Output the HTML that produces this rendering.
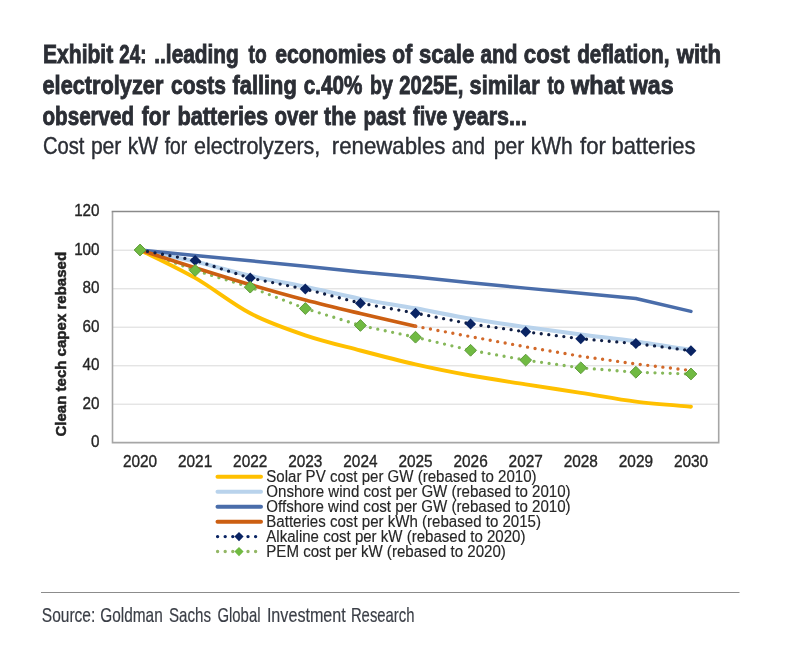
<!DOCTYPE html>
<html><head><meta charset="utf-8"><style>
html,body{margin:0;padding:0;background:#fff;width:786px;height:657px;overflow:hidden}
svg{display:block;filter:blur(0.35px)}
text{font-family:"Liberation Sans",sans-serif;fill:#262626}
.tt{font-size:26.5px;font-weight:bold;fill:#2B2E35;stroke:#2B2E35;stroke-width:0.9px}
.st{font-size:24px;fill:#2B2E35;stroke:#2B2E35;stroke-width:0.4px}
.src{font-size:21px;fill:#3A3E46;stroke:#3A3E46;stroke-width:0.2px}
.ax{font-size:16.5px;fill:#262626;stroke:#262626;stroke-width:0.35px}
.ax2{font-size:15px;fill:#262626;stroke:#262626;stroke-width:0.2px}
.yt{font-size:15.5px;font-weight:bold;fill:#222;stroke:#222;stroke-width:0.5px}
.lg{font-size:16px;fill:#262626;stroke:#262626;stroke-width:0.15px}
</style></head><body>
<svg width="786" height="657" viewBox="0 0 786 657">
<line x1="112.5" y1="404.2" x2="718.5" y2="404.2" stroke="#D9D9D9" stroke-width="1"/>
<line x1="112.5" y1="365.8" x2="718.5" y2="365.8" stroke="#D9D9D9" stroke-width="1"/>
<line x1="112.5" y1="327.2" x2="718.5" y2="327.2" stroke="#D9D9D9" stroke-width="1"/>
<line x1="112.5" y1="288.8" x2="718.5" y2="288.8" stroke="#D9D9D9" stroke-width="1"/>
<line x1="112.5" y1="250.2" x2="718.5" y2="250.2" stroke="#D9D9D9" stroke-width="1"/>
<path d="M112.5,211.5 V442.6 H718.7 V211.5" fill="none" stroke="#A6A6A6" stroke-width="1.6"/>
<line x1="111.7" y1="211.5" x2="719.5" y2="211.5" stroke="#8A8A8A" stroke-width="1.6"/>
<text x="99.6" y="447.1" text-anchor="end" class="ax" textLength="8.49" lengthAdjust="spacingAndGlyphs">0</text>
<text x="99.6" y="408.6" text-anchor="end" class="ax" textLength="16.98" lengthAdjust="spacingAndGlyphs">20</text>
<text x="99.6" y="370.1" text-anchor="end" class="ax" textLength="16.98" lengthAdjust="spacingAndGlyphs">40</text>
<text x="99.6" y="331.6" text-anchor="end" class="ax" textLength="16.98" lengthAdjust="spacingAndGlyphs">60</text>
<text x="99.6" y="293.1" text-anchor="end" class="ax" textLength="16.98" lengthAdjust="spacingAndGlyphs">80</text>
<text x="99.6" y="254.6" text-anchor="end" class="ax" textLength="25.47" lengthAdjust="spacingAndGlyphs">100</text>
<text x="99.6" y="216.1" text-anchor="end" class="ax" textLength="25.47" lengthAdjust="spacingAndGlyphs">120</text>
<text x="140.0" y="467.2" text-anchor="middle" class="ax" textLength="34.2" lengthAdjust="spacingAndGlyphs">2020</text>
<text x="195.1" y="467.2" text-anchor="middle" class="ax" textLength="34.2" lengthAdjust="spacingAndGlyphs">2021</text>
<text x="250.2" y="467.2" text-anchor="middle" class="ax" textLength="34.2" lengthAdjust="spacingAndGlyphs">2022</text>
<text x="305.3" y="467.2" text-anchor="middle" class="ax" textLength="34.2" lengthAdjust="spacingAndGlyphs">2023</text>
<text x="360.4" y="467.2" text-anchor="middle" class="ax" textLength="34.2" lengthAdjust="spacingAndGlyphs">2024</text>
<text x="415.5" y="467.2" text-anchor="middle" class="ax" textLength="34.2" lengthAdjust="spacingAndGlyphs">2025</text>
<text x="470.6" y="467.2" text-anchor="middle" class="ax" textLength="34.2" lengthAdjust="spacingAndGlyphs">2026</text>
<text x="525.7" y="467.2" text-anchor="middle" class="ax" textLength="34.2" lengthAdjust="spacingAndGlyphs">2027</text>
<text x="580.8" y="467.2" text-anchor="middle" class="ax" textLength="34.2" lengthAdjust="spacingAndGlyphs">2028</text>
<text x="635.9" y="467.2" text-anchor="middle" class="ax" textLength="34.2" lengthAdjust="spacingAndGlyphs">2029</text>
<text x="691.0" y="467.2" text-anchor="middle" class="ax" textLength="34.2" lengthAdjust="spacingAndGlyphs">2030</text>
<text transform="translate(66.4,436.6) rotate(-90)" class="yt" textLength="184.7" lengthAdjust="spacingAndGlyphs">Clean tech capex rebased</text>
<path d="M140.05,250.00 L195.14,270.40 L250.23,287.15 L305.32,308.52 L360.41,325.46 L415.50,337.20 L470.59,350.29 L525.68,360.11 L580.77,367.81 L635.86,372.24 L690.95,373.97" fill="none" stroke="#86B85A" stroke-width="3.3" stroke-linecap="round" stroke-dasharray="0 7.6"/>
<path d="M140.05,250.00 C149.23,254.65 176.77,267.36 195.14,277.91 C213.50,288.47 231.86,303.77 250.23,313.33 C268.59,322.89 286.95,329.09 305.32,335.28 C323.68,341.47 342.05,345.64 360.41,350.49 C378.77,355.33 397.14,360.17 415.50,364.35 C433.86,368.52 452.23,372.17 470.59,375.51 C488.95,378.85 507.32,381.48 525.68,384.37 C544.05,387.25 562.41,389.95 580.77,392.83 C599.14,395.72 617.50,399.38 635.86,401.69 C654.23,404.00 681.77,405.86 690.95,406.69" fill="none" stroke="#FFC000" stroke-width="3.9" stroke-linecap="round" stroke-linejoin="round"/>
<path d="M140.05,250.00 C149.23,251.93 176.77,257.25 195.14,261.55 C213.50,265.85 231.86,271.59 250.23,275.80 C268.59,280.00 286.95,282.92 305.32,286.77 C323.68,290.62 342.05,295.30 360.41,298.89 C378.77,302.49 397.14,305.02 415.50,308.33 C433.86,311.63 452.23,315.61 470.59,318.72 C488.95,321.83 507.32,324.37 525.68,327.00 C544.05,329.63 562.41,332.10 580.77,334.51 C599.14,336.91 617.50,338.84 635.86,341.44 C654.23,344.04 681.77,348.66 690.95,350.10" fill="none" stroke="#B9D3EC" stroke-width="4" stroke-linecap="round"/>
<path d="M140.05,250.00 L195.14,255.39 L250.23,260.78 L305.32,266.17 L360.41,271.95 L415.50,276.95 L470.59,282.73 L525.68,288.12 L580.77,293.31 L635.86,298.51 L690.95,311.41" fill="none" stroke="#4A6DAA" stroke-width="3.5" stroke-linecap="round" stroke-linejoin="round"/>
<path d="M140.05,250.00 C149.23,252.95 176.77,261.94 195.14,267.71 C213.50,273.49 231.86,279.26 250.23,284.65 C268.59,290.04 286.95,295.24 305.32,300.05 C323.68,304.86 342.05,309.16 360.41,313.52 C378.77,317.89 406.32,324.11 415.50,326.23" fill="none" stroke="#CC5F12" stroke-width="3.7" stroke-linecap="round"/>
<path d="M415.50,326.23 L470.59,336.62 L525.68,346.83 L580.77,356.26 L635.86,363.96 L690.95,370.50" fill="none" stroke="#D2692A" stroke-width="3.4" stroke-linecap="round" stroke-dasharray="0 7.6"/>
<path d="M140.05,250.00 L195.14,260.39 L250.23,278.11 L305.32,289.08 L360.41,303.13 L415.50,313.14 L470.59,323.92 L525.68,331.81 L580.77,338.74 L635.86,343.56 L690.95,350.68" fill="none" stroke="#101F45" stroke-width="3.3" stroke-linecap="round" stroke-dasharray="0 7.6"/>
<path d="M140.05,244.50 L145.55,250.00 L140.05,255.50 L134.55,250.00 Z" fill="#0A2463"/>
<path d="M195.14,254.89 L200.64,260.39 L195.14,265.89 L189.64,260.39 Z" fill="#0A2463"/>
<path d="M250.23,272.61 L255.73,278.11 L250.23,283.61 L244.73,278.11 Z" fill="#0A2463"/>
<path d="M305.32,283.58 L310.82,289.08 L305.32,294.58 L299.82,289.08 Z" fill="#0A2463"/>
<path d="M360.41,297.63 L365.91,303.13 L360.41,308.63 L354.91,303.13 Z" fill="#0A2463"/>
<path d="M415.50,307.64 L421.00,313.14 L415.50,318.64 L410.00,313.14 Z" fill="#0A2463"/>
<path d="M470.59,318.42 L476.09,323.92 L470.59,329.42 L465.09,323.92 Z" fill="#0A2463"/>
<path d="M525.68,326.31 L531.18,331.81 L525.68,337.31 L520.18,331.81 Z" fill="#0A2463"/>
<path d="M580.77,333.24 L586.27,338.74 L580.77,344.24 L575.27,338.74 Z" fill="#0A2463"/>
<path d="M635.86,338.06 L641.36,343.56 L635.86,349.06 L630.36,343.56 Z" fill="#0A2463"/>
<path d="M690.95,345.18 L696.45,350.68 L690.95,356.18 L685.45,350.68 Z" fill="#0A2463"/>
<path d="M140.05,244.10 L145.95,250.00 L140.05,255.90 L134.15,250.00 Z" fill="#70BA42" stroke="#5E9A3A" stroke-width="1"/>
<path d="M195.14,264.50 L201.04,270.40 L195.14,276.30 L189.24,270.40 Z" fill="#70BA42" stroke="#5E9A3A" stroke-width="1"/>
<path d="M250.23,281.25 L256.13,287.15 L250.23,293.05 L244.33,287.15 Z" fill="#70BA42" stroke="#5E9A3A" stroke-width="1"/>
<path d="M305.32,302.62 L311.22,308.52 L305.32,314.42 L299.42,308.52 Z" fill="#70BA42" stroke="#5E9A3A" stroke-width="1"/>
<path d="M360.41,319.56 L366.31,325.46 L360.41,331.36 L354.51,325.46 Z" fill="#70BA42" stroke="#5E9A3A" stroke-width="1"/>
<path d="M415.50,331.30 L421.40,337.20 L415.50,343.10 L409.60,337.20 Z" fill="#70BA42" stroke="#5E9A3A" stroke-width="1"/>
<path d="M470.59,344.39 L476.49,350.29 L470.59,356.19 L464.69,350.29 Z" fill="#70BA42" stroke="#5E9A3A" stroke-width="1"/>
<path d="M525.68,354.21 L531.58,360.11 L525.68,366.01 L519.78,360.11 Z" fill="#70BA42" stroke="#5E9A3A" stroke-width="1"/>
<path d="M580.77,361.91 L586.67,367.81 L580.77,373.71 L574.87,367.81 Z" fill="#70BA42" stroke="#5E9A3A" stroke-width="1"/>
<path d="M635.86,366.34 L641.76,372.24 L635.86,378.14 L629.96,372.24 Z" fill="#70BA42" stroke="#5E9A3A" stroke-width="1"/>
<path d="M690.95,368.07 L696.85,373.97 L690.95,379.87 L685.05,373.97 Z" fill="#70BA42" stroke="#5E9A3A" stroke-width="1"/>
<line x1="217.5" y1="476.80" x2="261" y2="476.80" stroke="#FFC000" stroke-width="4" stroke-linecap="round"/>
<line x1="217.5" y1="491.75" x2="261" y2="491.75" stroke="#B9D3EC" stroke-width="4" stroke-linecap="round"/>
<line x1="217.5" y1="506.70" x2="261" y2="506.70" stroke="#4A6DAA" stroke-width="4" stroke-linecap="round"/>
<line x1="217.5" y1="521.65" x2="261" y2="521.65" stroke="#CC5F12" stroke-width="4" stroke-linecap="round"/>
<line x1="217.6" y1="536.60" x2="257" y2="536.60" stroke="#0A2463" stroke-width="3.4" stroke-linecap="round" stroke-dasharray="0 7.6"/>
<path d="M239.00,532.00 L243.60,536.60 L239.00,541.20 L234.40,536.60 Z" fill="#0A2463"/>
<line x1="217.6" y1="551.55" x2="257" y2="551.55" stroke="#93B765" stroke-width="3.4" stroke-linecap="round" stroke-dasharray="0 7.6"/>
<path d="M239.00,546.95 L243.60,551.55 L239.00,556.15 L234.40,551.55 Z" fill="#70BA42"/>
<text x="43.00" y="62.6" class="tt" textLength="70.23" lengthAdjust="spacingAndGlyphs">Exhibit</text>
<text x="119.30" y="62.6" class="tt" textLength="27.10" lengthAdjust="spacingAndGlyphs">24:</text>
<text x="154.30" y="62.6" class="tt" textLength="84.49" lengthAdjust="spacingAndGlyphs">..leading</text>
<text x="248.50" y="62.6" class="tt" textLength="18.11" lengthAdjust="spacingAndGlyphs">to</text>
<text x="275.20" y="62.6" class="tt" textLength="110.83" lengthAdjust="spacingAndGlyphs">economies</text>
<text x="392.30" y="62.6" class="tt" textLength="19.83" lengthAdjust="spacingAndGlyphs">of</text>
<text x="419.00" y="62.6" class="tt" textLength="55.21" lengthAdjust="spacingAndGlyphs">scale</text>
<text x="480.50" y="62.6" class="tt" textLength="36.91" lengthAdjust="spacingAndGlyphs">and</text>
<text x="523.80" y="62.6" class="tt" textLength="45.79" lengthAdjust="spacingAndGlyphs">cost</text>
<text x="577.20" y="62.6" class="tt" textLength="92.28" lengthAdjust="spacingAndGlyphs">deflation,</text>
<text x="676.68" y="62.6" class="tt" textLength="44.41" lengthAdjust="spacingAndGlyphs">with</text>
<text x="42.50" y="93.6" class="tt" textLength="120.90" lengthAdjust="spacingAndGlyphs">electrolyzer</text>
<text x="171.00" y="93.6" class="tt" textLength="54.82" lengthAdjust="spacingAndGlyphs">costs</text>
<text x="232.50" y="93.6" class="tt" textLength="64.22" lengthAdjust="spacingAndGlyphs">falling</text>
<text x="303.80" y="93.6" class="tt" textLength="58.53" lengthAdjust="spacingAndGlyphs">c.40%</text>
<text x="370.00" y="93.6" class="tt" textLength="22.82" lengthAdjust="spacingAndGlyphs">by</text>
<text x="399.20" y="93.6" class="tt" textLength="64.09" lengthAdjust="spacingAndGlyphs">2025E,</text>
<text x="469.60" y="93.6" class="tt" textLength="70.03" lengthAdjust="spacingAndGlyphs">similar</text>
<text x="547.40" y="93.6" class="tt" textLength="17.41" lengthAdjust="spacingAndGlyphs">to</text>
<text x="570.99" y="93.6" class="tt" textLength="53.58" lengthAdjust="spacingAndGlyphs">what</text>
<text x="629.79" y="93.6" class="tt" textLength="43.80" lengthAdjust="spacingAndGlyphs">was</text>
<text x="42.50" y="124.5" class="tt" textLength="91.62" lengthAdjust="spacingAndGlyphs">observed</text>
<text x="141.80" y="124.5" class="tt" textLength="28.02" lengthAdjust="spacingAndGlyphs">for</text>
<text x="177.40" y="124.5" class="tt" textLength="90.77" lengthAdjust="spacingAndGlyphs">batteries</text>
<text x="274.50" y="124.5" class="tt" textLength="43.28" lengthAdjust="spacingAndGlyphs">over</text>
<text x="324.10" y="124.5" class="tt" textLength="31.86" lengthAdjust="spacingAndGlyphs">the</text>
<text x="363.60" y="124.5" class="tt" textLength="41.99" lengthAdjust="spacingAndGlyphs">past</text>
<text x="413.10" y="124.5" class="tt" textLength="34.07" lengthAdjust="spacingAndGlyphs">five</text>
<text x="452.90" y="124.5" class="tt" textLength="74.06" lengthAdjust="spacingAndGlyphs">years...</text>
<text x="43.00" y="154.3" class="st" textLength="41.46" lengthAdjust="spacingAndGlyphs">Cost</text>
<text x="90.90" y="154.3" class="st" textLength="30.49" lengthAdjust="spacingAndGlyphs">per</text>
<text x="127.80" y="154.3" class="st" textLength="30.46" lengthAdjust="spacingAndGlyphs">kW</text>
<text x="164.70" y="154.3" class="st" textLength="22.41" lengthAdjust="spacingAndGlyphs">for</text>
<text x="194.00" y="154.3" class="st" textLength="126.28" lengthAdjust="spacingAndGlyphs">electrolyzers,</text>
<text x="331.80" y="154.3" class="st" textLength="113.64" lengthAdjust="spacingAndGlyphs">renewables</text>
<text x="451.80" y="154.3" class="st" textLength="33.14" lengthAdjust="spacingAndGlyphs">and</text>
<text x="493.80" y="154.3" class="st" textLength="30.49" lengthAdjust="spacingAndGlyphs">per</text>
<text x="530.70" y="154.3" class="st" textLength="42.00" lengthAdjust="spacingAndGlyphs">kWh</text>
<text x="580.00" y="154.3" class="st" textLength="25.81" lengthAdjust="spacingAndGlyphs">for</text>
<text x="611.50" y="154.3" class="st" textLength="83.96" lengthAdjust="spacingAndGlyphs">batteries</text>
<text x="266.30" y="482.00" class="lg" textLength="270.24" lengthAdjust="spacingAndGlyphs">Solar PV cost per GW (rebased to 2010)</text>
<text x="266.30" y="496.95" class="lg" textLength="304.32" lengthAdjust="spacingAndGlyphs">Onshore wind cost per GW (rebased to 2010)</text>
<text x="266.30" y="511.90" class="lg" textLength="304.32" lengthAdjust="spacingAndGlyphs">Offshore wind cost per GW (rebased to 2010)</text>
<text x="266.30" y="526.85" class="lg" textLength="274.70" lengthAdjust="spacingAndGlyphs">Batteries cost per kWh (rebased to 2015)</text>
<text x="266.30" y="541.80" class="lg" textLength="259.09" lengthAdjust="spacingAndGlyphs">Alkaline cost per kW (rebased to 2020)</text>
<text x="266.30" y="556.75" class="lg" textLength="239.53" lengthAdjust="spacingAndGlyphs">PEM cost per kW (rebased to 2020)</text>
<text x="41.80" y="621.5" class="src" textLength="53.48" lengthAdjust="spacingAndGlyphs">Source:</text>
<text x="100.30" y="621.5" class="src" textLength="62.41" lengthAdjust="spacingAndGlyphs">Goldman</text>
<text x="169.00" y="621.5" class="src" textLength="41.98" lengthAdjust="spacingAndGlyphs">Sachs</text>
<text x="217.40" y="621.5" class="src" textLength="43.10" lengthAdjust="spacingAndGlyphs">Global</text>
<text x="266.90" y="621.5" class="src" textLength="78.91" lengthAdjust="spacingAndGlyphs">Investment</text>
<text x="350.90" y="621.5" class="src" textLength="63.58" lengthAdjust="spacingAndGlyphs">Research</text>
<line x1="41" y1="592.5" x2="739.5" y2="592.5" stroke="#8C8C8C" stroke-width="1"/>
</svg>
</body></html>
